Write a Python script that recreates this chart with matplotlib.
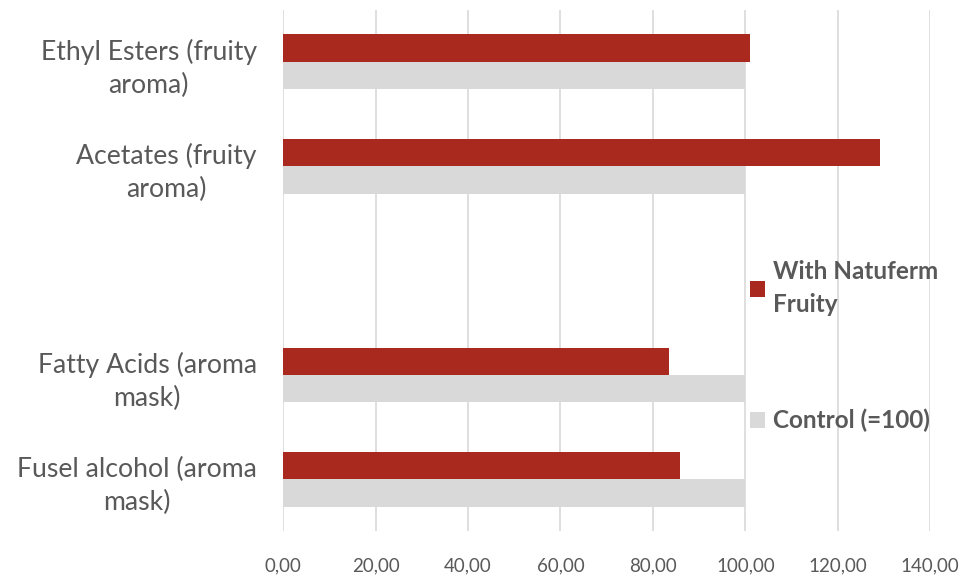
import matplotlib.pyplot as plt
import numpy as np

categories = ["Ethyl Esters (fruity\naroma)", "Acetates (fruity\naroma)", "",
              "Fatty Acids (aroma\nmask)", "Fusel alcohol (aroma\nmask)"]
natuferm = [100.9, 129.1, 0, 83.5, 85.9]
control = [100, 100, 0, 100, 100]
xticks = [0, 20, 40, 60, 80, 100, 120, 140]

red = "#A9291E"
grey = "#D9D9D9"
txt = "#595959"

plt.rcParams['font.family'] = ['Lato', 'DejaVu Sans']

fig = plt.figure(figsize=(9.63, 5.76), dpi=100)
ax = fig.add_axes([0.294, 0.0773, 0.672, 0.906])

y = np.arange(len(categories))
h = 0.262
ax.barh(y - h / 2, natuferm, height=h, color=red, label="With Natuferm\nFruity", zorder=3)
ax.barh(y + h / 2, control, height=h, color=grey, label="Control (=100)", zorder=3)

ax.set_ylim(len(categories) - 0.5, -0.5)
ax.set_xlim(0, 140)
ax.set_xticks(xticks)
ax.set_xticklabels([("%.2f" % v).replace(".", ",") for v in xticks], fontsize=13.5, color=txt)
ax.set_yticks(y)
ax.set_yticklabels(categories, fontsize=19.2, color=txt, linespacing=1.4)
ax.tick_params(axis="y", length=0, pad=19)
ax.tick_params(axis="x", length=0, pad=19)
for lab in ax.get_yticklabels():
    lab.set_multialignment("center")

ax.grid(axis="x", color=grey, linewidth=1.2, zorder=0)
for s in ax.spines.values():
    s.set_visible(False)

leg = ax.legend(loc="center left", bbox_to_anchor=(0.687, 0.355), frameon=False,
                prop={"weight": "bold", "size": 17.5}, labelcolor=txt,
                handlelength=0.65, handleheight=0.65, handletextpad=0.3,
                labelspacing=3.8)
for t in leg.get_texts():
    t.set_linespacing(1.55)

fig.savefig("out.png", dpi=100)
